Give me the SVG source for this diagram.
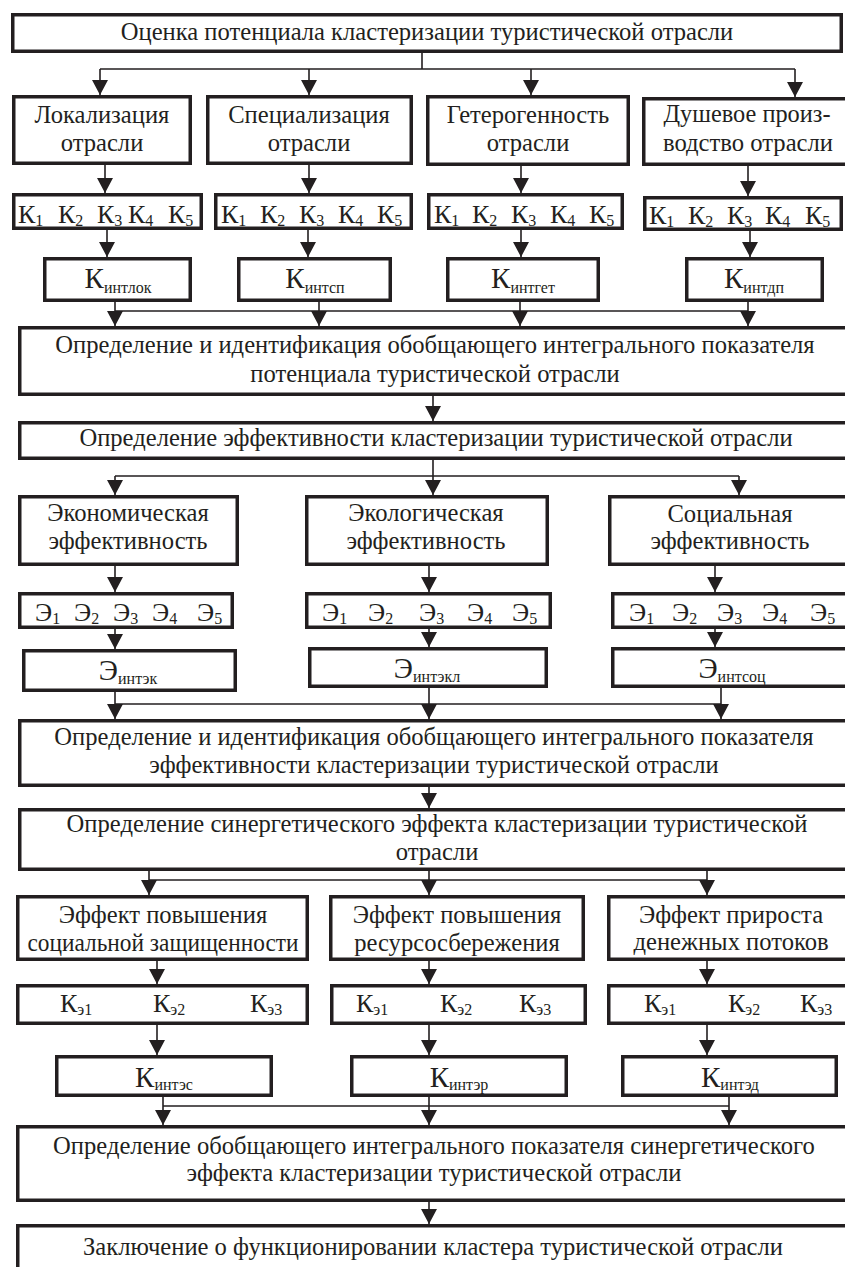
<svg xmlns="http://www.w3.org/2000/svg" width="845" height="1267" viewBox="0 0 845 1267">
<style>
.box{fill:#fff;stroke:#231f20;stroke-width:3.5}
.t{font-family:"Liberation Serif","Times New Roman",serif;font-size:24.6px;fill:#231f20;text-anchor:middle}
.k{font-family:"Liberation Serif","Times New Roman",serif;font-size:26px;fill:#231f20}
.ki{font-family:"Liberation Serif","Times New Roman",serif;font-size:29px;fill:#231f20;text-anchor:middle}
.s{font-size:16px}
.c{stroke:#231f20;stroke-width:1.6;fill:none}
.a{stroke:#231f20;stroke-width:1.6;fill:none;marker-end:url(#arr)}
</style>
<defs>
<marker id="arr" markerUnits="userSpaceOnUse" markerWidth="15" markerHeight="16" viewBox="0 0 15 16" refX="15" refY="8" orient="auto">
<path d="M0,0 L15,8 L0,16 z" fill="#231f20"/>
</marker>
</defs>
<rect width="845" height="1267" fill="#fff"/>
<g id="connectors">
<path class="c" d="M422,53 V69 M100,69 H795 M115,302 V311 M319,302 V311 M520,302 V311 M748,302 V311 M115,311 H748 M433,460 V476 M115,476 H739 M115,692 V704 M429,688 V704 M721,688 V704 M115,704 H721 M149,871 V880 M429,871 V880 M707,871 V880 M149,880 H707 M163,1097 V1106 M429,1097 V1106 M729,1097 V1106 M163,1106 H729"/>
<path class="a" d="M100,69 V95"/>
<path class="a" d="M309,69 V95"/>
<path class="a" d="M531,69 V95"/>
<path class="a" d="M795,69 V97"/>
<path class="a" d="M105,165 V193"/>
<path class="a" d="M309,165 V193"/>
<path class="a" d="M521,166 V193"/>
<path class="a" d="M748,166 V196"/>
<path class="a" d="M107,230 V257"/>
<path class="a" d="M308,230 V257"/>
<path class="a" d="M521,230 V257"/>
<path class="a" d="M750,231 V257"/>
<path class="a" d="M115,311 V326"/>
<path class="a" d="M319,311 V326"/>
<path class="a" d="M520,311 V326"/>
<path class="a" d="M748,311 V326"/>
<path class="a" d="M433,396 V421"/>
<path class="a" d="M115,476 V495"/>
<path class="a" d="M433,476 V495"/>
<path class="a" d="M739,476 V495"/>
<path class="a" d="M115,566 V592"/>
<path class="a" d="M429,566 V592"/>
<path class="a" d="M715,566 V592"/>
<path class="a" d="M115,629 V649"/>
<path class="a" d="M429,629 V647"/>
<path class="a" d="M715,629 V647"/>
<path class="a" d="M115,704 V719"/>
<path class="a" d="M429,704 V719"/>
<path class="a" d="M721,704 V719"/>
<path class="a" d="M429,787 V808"/>
<path class="a" d="M149,880 V895"/>
<path class="a" d="M429,880 V895"/>
<path class="a" d="M707,880 V895"/>
<path class="a" d="M157,961 V984"/>
<path class="a" d="M429,961 V984"/>
<path class="a" d="M707,961 V984"/>
<path class="a" d="M157,1025 V1055"/>
<path class="a" d="M429,1025 V1055"/>
<path class="a" d="M707,1025 V1055"/>
<path class="a" d="M163,1106 V1125"/>
<path class="a" d="M429,1106 V1125"/>
<path class="a" d="M729,1106 V1125"/>
<path class="a" d="M429,1202 V1224"/>
</g>
<g id="n-top"><rect class="box" x="12.75" y="14.75" width="828.5" height="36.5"/><text class="t" x="427" y="40">Оценка потенциала кластеризации туристической отрасли</text></g>
<g id="n-lok"><rect class="box" x="13.75" y="96.75" width="176.5" height="66.5"/><text class="t" x="102" y="123">Локализация</text><text class="t" x="102" y="151">отрасли</text></g>
<g id="n-spec"><rect class="box" x="207.75" y="96.75" width="203.5" height="66.5"/><text class="t" x="309" y="123">Специализация</text><text class="t" x="309" y="151">отрасли</text></g>
<g id="n-het"><rect class="box" x="427.75" y="96.75" width="200.5" height="67.5"/><text class="t" x="528" y="123">Гетерогенность</text><text class="t" x="528" y="151">отрасли</text></g>
<g id="n-dush"><rect class="box" x="643.75" y="98.75" width="210" height="65.5"/><text class="t" x="747" y="122" textLength="167" lengthAdjust="spacingAndGlyphs">Душевое произ-</text><text class="t" x="748" y="151" textLength="170" lengthAdjust="spacingAndGlyphs">водство отрасли</text></g>
<g id="n-k1"><rect class="box" x="13.75" y="194.75" width="187.5" height="33.5"/>
<text class="k" x="18" y="223">К<tspan class="s" dy="3">1</tspan></text><text class="k" x="58" y="223">К<tspan class="s" dy="3">2</tspan></text><text class="k" x="97" y="223">К<tspan class="s" dy="3">3</tspan></text><text class="k" x="128" y="223">К<tspan class="s" dy="3">4</tspan></text><text class="k" x="168" y="223">К<tspan class="s" dy="3">5</tspan></text></g>
<g id="n-k2"><rect class="box" x="215.75" y="194.75" width="195.5" height="33.5"/>
<text class="k" x="221" y="223">К<tspan class="s" dy="3">1</tspan></text><text class="k" x="260" y="223">К<tspan class="s" dy="3">2</tspan></text><text class="k" x="299" y="223">К<tspan class="s" dy="3">3</tspan></text><text class="k" x="338" y="223">К<tspan class="s" dy="3">4</tspan></text><text class="k" x="377" y="223">К<tspan class="s" dy="3">5</tspan></text></g>
<g id="n-k3"><rect class="box" x="428.75" y="194.75" width="193.5" height="33.5"/>
<text class="k" x="434" y="223">К<tspan class="s" dy="3">1</tspan></text><text class="k" x="472" y="223">К<tspan class="s" dy="3">2</tspan></text><text class="k" x="511" y="223">К<tspan class="s" dy="3">3</tspan></text><text class="k" x="550" y="223">К<tspan class="s" dy="3">4</tspan></text><text class="k" x="589" y="223">К<tspan class="s" dy="3">5</tspan></text></g>
<g id="n-k4"><rect class="box" x="644.75" y="197.75" width="196.5" height="31.5"/>
<text class="k" x="649" y="224">К<tspan class="s" dy="3">1</tspan></text><text class="k" x="688" y="224">К<tspan class="s" dy="3">2</tspan></text><text class="k" x="727" y="224">К<tspan class="s" dy="3">3</tspan></text><text class="k" x="765" y="224">К<tspan class="s" dy="3">4</tspan></text><text class="k" x="805" y="224">К<tspan class="s" dy="3">5</tspan></text></g>
<g id="n-kint1"><rect class="box" x="44.75" y="258.75" width="145.5" height="41.5"/><text class="ki" x="118" y="288">К<tspan class="s" dy="5">интлок</tspan></text></g>
<g id="n-kint2"><rect class="box" x="238.75" y="258.75" width="151.5" height="41.5"/><text class="ki" x="315" y="288">К<tspan class="s" dy="5">интсп</tspan></text></g>
<g id="n-kint3"><rect class="box" x="447.75" y="258.75" width="150.5" height="41.5"/><text class="ki" x="523" y="288">К<tspan class="s" dy="5">интгет</tspan></text></g>
<g id="n-kint4"><rect class="box" x="686.75" y="258.75" width="135.5" height="41.5"/><text class="ki" x="754" y="288">К<tspan class="s" dy="5">интдп</tspan></text></g>
<g id="n-pot"><rect class="box" x="19.75" y="327.75" width="830" height="66.5"/><text class="t" x="435" y="353">Определение и идентификация обобщающего интегрального показателя</text><text class="t" x="435" y="382">потенциала туристической отрасли</text></g>
<g id="n-eff"><rect class="box" x="19.75" y="422.75" width="830" height="35.5"/><text class="t" x="436" y="446">Определение эффективности кластеризации туристической отрасли</text></g>
<g id="n-econ"><rect class="box" x="19.75" y="496.75" width="217.5" height="67.5"/><text class="t" x="128" y="521">Экономическая</text><text class="t" x="128" y="549">эффективность</text></g>
<g id="n-ecol"><rect class="box" x="306.75" y="496.75" width="240.5" height="67.5"/><text class="t" x="426" y="521">Экологическая</text><text class="t" x="426" y="549">эффективность</text></g>
<g id="n-soc"><rect class="box" x="609.75" y="496.75" width="240" height="67.5"/><text class="t" x="730" y="522">Социальная</text><text class="t" x="730" y="549">эффективность</text></g>
<g id="n-e1"><rect class="box" x="19.75" y="593.75" width="212.5" height="33.5"/>
<text class="k" x="35" y="621">Э<tspan class="s" dy="3">1</tspan></text><text class="k" x="74" y="621">Э<tspan class="s" dy="3">2</tspan></text><text class="k" x="113" y="621">Э<tspan class="s" dy="3">3</tspan></text><text class="k" x="152" y="621">Э<tspan class="s" dy="3">4</tspan></text><text class="k" x="197" y="621">Э<tspan class="s" dy="3">5</tspan></text></g>
<g id="n-e2"><rect class="box" x="306.75" y="593.75" width="243.5" height="33.5"/>
<text class="k" x="322" y="621">Э<tspan class="s" dy="3">1</tspan></text><text class="k" x="368" y="621">Э<tspan class="s" dy="3">2</tspan></text><text class="k" x="419" y="621">Э<tspan class="s" dy="3">3</tspan></text><text class="k" x="467" y="621">Э<tspan class="s" dy="3">4</tspan></text><text class="k" x="512" y="621">Э<tspan class="s" dy="3">5</tspan></text></g>
<g id="n-e3"><rect class="box" x="612.75" y="593.75" width="240" height="33.5"/>
<text class="k" x="629" y="621">Э<tspan class="s" dy="3">1</tspan></text><text class="k" x="672" y="621">Э<tspan class="s" dy="3">2</tspan></text><text class="k" x="717" y="621">Э<tspan class="s" dy="3">3</tspan></text><text class="k" x="762" y="621">Э<tspan class="s" dy="3">4</tspan></text><text class="k" x="810" y="621">Э<tspan class="s" dy="3">5</tspan></text></g>
<g id="n-eint1"><rect class="box" x="23.75" y="650.75" width="211.5" height="39.5"/><text class="ki" x="128" y="680">Э<tspan class="s" dy="4">интэк</tspan></text></g>
<g id="n-eint2"><rect class="box" x="309.75" y="648.75" width="236.5" height="37.5"/><text class="ki" x="427" y="678">Э<tspan class="s" dy="4">интэкл</tspan></text></g>
<g id="n-eint3"><rect class="box" x="612.75" y="648.75" width="240" height="37.5"/><text class="ki" x="732" y="678">Э<tspan class="s" dy="4">интсоц</tspan></text></g>
<g id="n-effint"><rect class="box" x="19.75" y="720.75" width="830" height="64.5"/><text class="t" x="434" y="745">Определение и идентификация обобщающего интегрального показателя</text><text class="t" x="434" y="773">эффективности кластеризации туристической отрасли</text></g>
<g id="n-syn"><rect class="box" x="19.75" y="809.75" width="830" height="59.5"/><text class="t" x="437" y="832">Определение синергетического эффекта кластеризации туристической</text><text class="t" x="437" y="860">отрасли</text></g>
<g id="n-ef1"><rect class="box" x="17.75" y="896.75" width="289.5" height="62.5"/><text class="t" x="163" y="923">Эффект повышения</text><text class="t" x="163" y="951" textLength="271" lengthAdjust="spacingAndGlyphs">социальной защищенности</text></g>
<g id="n-ef2"><rect class="box" x="330.75" y="896.75" width="252.5" height="62.5"/><text class="t" x="457" y="923">Эффект повышения</text><text class="t" x="457" y="951">ресурсосбережения</text></g>
<g id="n-ef3"><rect class="box" x="608.75" y="896.75" width="240" height="62.5"/><text class="t" x="731" y="923">Эффект прироста</text><text class="t" x="731" y="950">денежных потоков</text></g>
<g id="n-ke1"><rect class="box" x="17.75" y="985.75" width="289.5" height="37.5"/>
<text class="k" x="60" y="1012">К<tspan class="s" dy="3">э1</tspan></text><text class="k" x="153" y="1012">К<tspan class="s" dy="3">э2</tspan></text><text class="k" x="250" y="1012">К<tspan class="s" dy="3">э3</tspan></text></g>
<g id="n-ke2"><rect class="box" x="331.75" y="985.75" width="253.5" height="37.5"/>
<text class="k" x="356" y="1012">К<tspan class="s" dy="3">э1</tspan></text><text class="k" x="440" y="1012">К<tspan class="s" dy="3">э2</tspan></text><text class="k" x="519" y="1012">К<tspan class="s" dy="3">э3</tspan></text></g>
<g id="n-ke3"><rect class="box" x="608.75" y="985.75" width="240" height="37.5"/>
<text class="k" x="644" y="1012">К<tspan class="s" dy="3">э1</tspan></text><text class="k" x="728" y="1012">К<tspan class="s" dy="3">э2</tspan></text><text class="k" x="800" y="1012">К<tspan class="s" dy="3">э3</tspan></text></g>
<g id="n-kie1"><rect class="box" x="56.75" y="1056.75" width="214.5" height="38.5"/><text class="ki" x="164" y="1087">К<tspan class="s" dy="3">интэс</tspan></text></g>
<g id="n-kie2"><rect class="box" x="351.75" y="1056.75" width="214.5" height="38.5"/><text class="ki" x="459" y="1087">К<tspan class="s" dy="3">интэр</tspan></text></g>
<g id="n-kie3"><rect class="box" x="622.75" y="1056.75" width="213.5" height="38.5"/><text class="ki" x="730" y="1087">К<tspan class="s" dy="3">интэд</tspan></text></g>
<g id="n-synint"><rect class="box" x="17.75" y="1126.75" width="832" height="73.5"/><text class="t" x="434" y="1154">Определение обобщающего интегрального показателя синергетического</text><text class="t" x="434" y="1181">эффекта кластеризации туристической отрасли</text></g>
<g id="n-final"><rect class="box" x="17.75" y="1225.75" width="832" height="50"/><text class="t" x="433" y="1255">Заключение о функционировании кластера туристической отрасли</text></g>
</svg>
